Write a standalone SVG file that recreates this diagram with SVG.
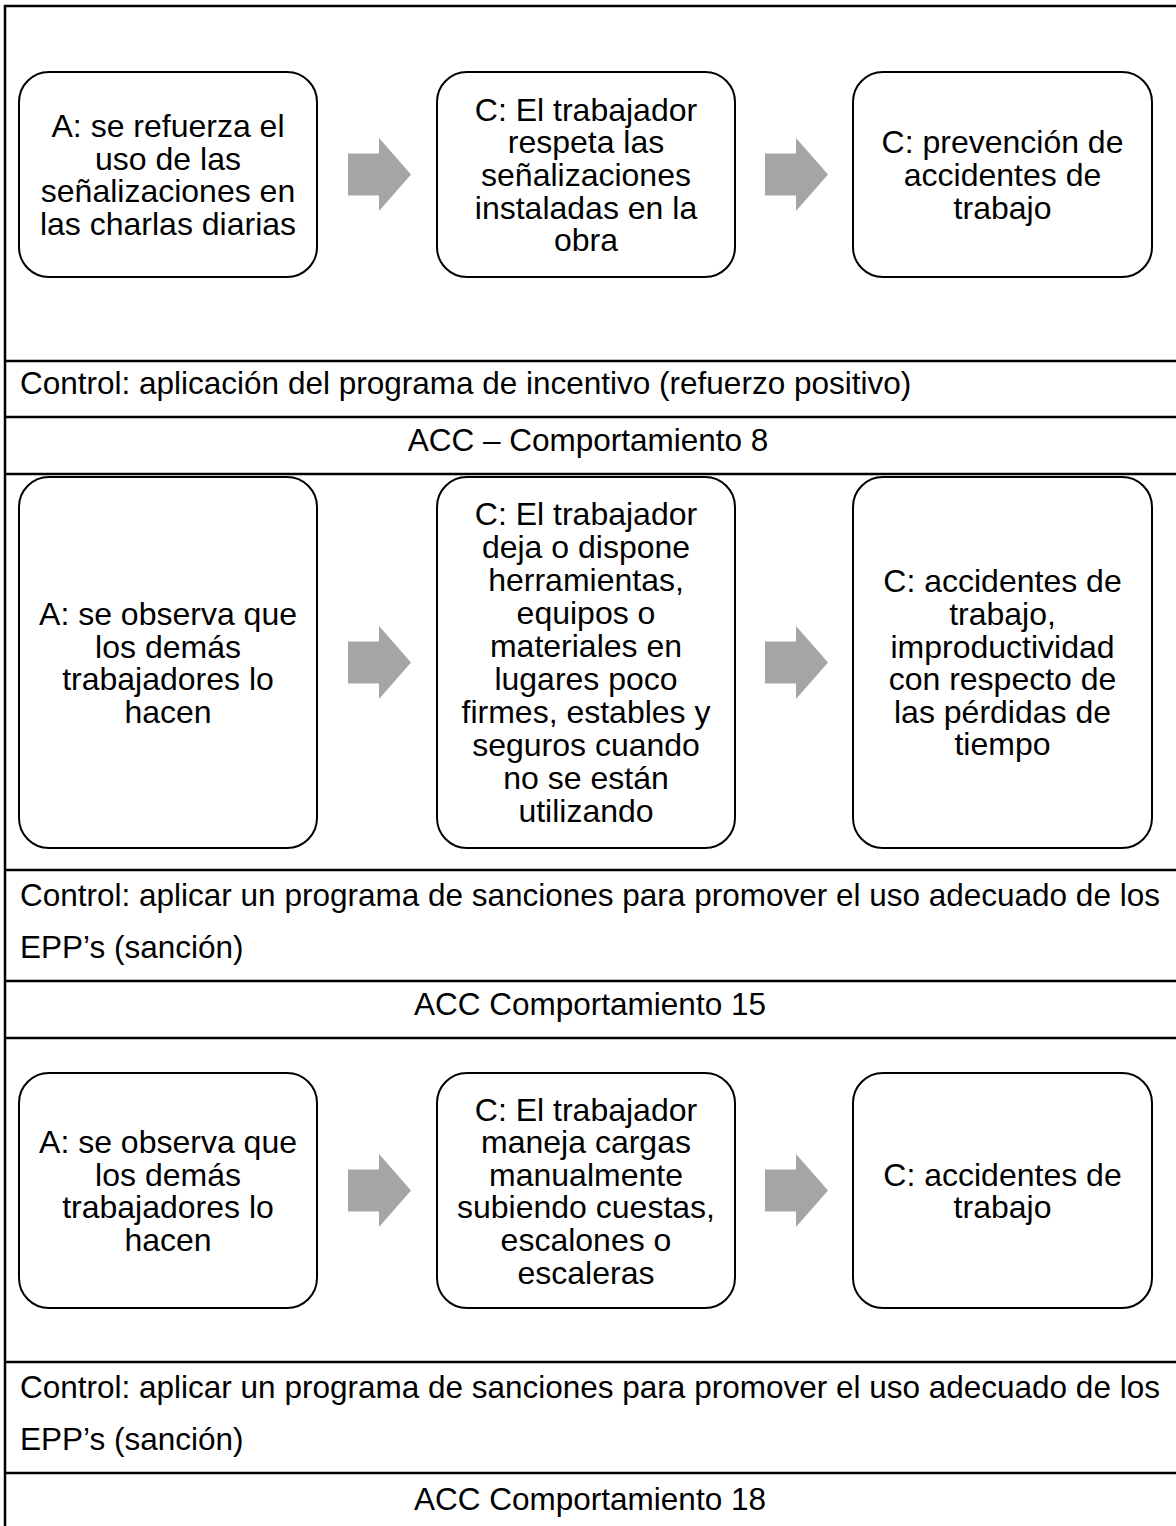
<svg xmlns="http://www.w3.org/2000/svg" width="1176" height="1526" viewBox="0 0 1176 1526">
<style>
text{font-family:"Liberation Sans",Arial,sans-serif;font-size:31.5px;fill:#000}
.c{text-anchor:middle}
.bt{font-size:32px}
.box{fill:#fff;stroke:#000;stroke-width:2}
.arr{fill:#a5a5a5}
.tl{stroke:#000;stroke-width:2.5;fill:none}
</style>
<rect width="1176" height="1526" fill="#fff"/>
<g id="table">
<path class="tl" d="M5,1526 V6 H1176"/>
<path class="tl" d="M5,361 H1176 M5,417 H1176 M5,474 H1176 M5,870 H1176 M5,981 H1176 M5,1038 H1176 M5,1362 H1176 M5,1473 H1176"/>
</g>
<g id="connectors">
<path class="arr" d="M348,153.5 H379 V138 L411,174.5 L379,211 V195.5 H348 Z"/>
<path class="arr" d="M765,153.5 H796 V138 L828,174.5 L796,211 V195.5 H765 Z"/>
<path class="arr" d="M348,641.5 H379 V626 L411,662.5 L379,699 V683.5 H348 Z"/>
<path class="arr" d="M765,641.5 H796 V626 L828,662.5 L796,699 V683.5 H765 Z"/>
<path class="arr" d="M348,1169.5 H379 V1154 L411,1190.5 L379,1227 V1211.5 H348 Z"/>
<path class="arr" d="M765,1169.5 H796 V1154 L828,1190.5 L796,1227 V1211.5 H765 Z"/>
</g>
<g id="r1a"><rect class="box" x="19" y="72" width="298" height="205" rx="30"/>
<text class="c bt" x="168"><tspan x="168" y="137">A: se refuerza el</tspan><tspan x="168" y="169.6">uso de las</tspan><tspan x="168" y="202.2">señalizaciones en</tspan><tspan x="168" y="234.8">las charlas diarias</tspan></text></g>
<g id="r1b"><rect class="box" x="437" y="72" width="298" height="205" rx="30"/>
<text class="c bt" x="586"><tspan x="586" y="120.7">C: El trabajador</tspan><tspan x="586" y="153.3">respeta las</tspan><tspan x="586" y="185.9">señalizaciones</tspan><tspan x="586" y="218.5">instaladas en la</tspan><tspan x="586" y="251.1">obra</tspan></text></g>
<g id="r1c"><rect class="box" x="853" y="72" width="299" height="205" rx="30"/>
<text class="c bt" x="1002.5"><tspan x="1002.5" y="153.3">C: prevención de</tspan><tspan x="1002.5" y="185.9">accidentes de</tspan><tspan x="1002.5" y="218.5">trabajo</tspan></text></g>
<g id="ctrl1"><text x="20" y="394">Control: aplicación del programa de incentivo (refuerzo positivo)</text></g>
<g id="acc8"><text class="c" x="588" y="451">ACC – Comportamiento 8</text></g>
<g id="r2a"><rect class="box" x="19" y="477" width="298" height="371" rx="30"/>
<text class="c bt" x="168"><tspan x="168" y="625">A: se observa que</tspan><tspan x="168" y="657.6">los demás</tspan><tspan x="168" y="690.2">trabajadores lo</tspan><tspan x="168" y="722.8">hacen</tspan></text></g>
<g id="r2b"><rect class="box" x="437" y="477" width="298" height="371" rx="30"/>
<text class="c bt" x="586"><tspan x="586" y="525">C: El trabajador</tspan><tspan x="586" y="558">deja o dispone</tspan><tspan x="586" y="591">herramientas,</tspan><tspan x="586" y="624">equipos o</tspan><tspan x="586" y="657">materiales en</tspan><tspan x="586" y="690">lugares poco</tspan><tspan x="586" y="723">firmes, estables y</tspan><tspan x="586" y="756">seguros cuando</tspan><tspan x="586" y="789">no se están</tspan><tspan x="586" y="822">utilizando</tspan></text></g>
<g id="r2c"><rect class="box" x="853" y="477" width="299" height="371" rx="30"/>
<text class="c bt" x="1002.5"><tspan x="1002.5" y="592.4">C: accidentes de</tspan><tspan x="1002.5" y="625">trabajo,</tspan><tspan x="1002.5" y="657.6">improductividad</tspan><tspan x="1002.5" y="690.2">con respecto de</tspan><tspan x="1002.5" y="722.8">las pérdidas de</tspan><tspan x="1002.5" y="755.4">tiempo</tspan></text></g>
<g id="ctrl2"><text x="20" y="906">Control: aplicar un programa de sanciones para promover el uso adecuado de los</text><text x="20" y="958">EPP’s (sanción)</text></g>
<g id="acc15"><text class="c" x="590" y="1015">ACC Comportamiento 15</text></g>
<g id="r3a"><rect class="box" x="19" y="1073" width="298" height="235" rx="30"/>
<text class="c bt" x="168"><tspan x="168" y="1153">A: se observa que</tspan><tspan x="168" y="1185.6">los demás</tspan><tspan x="168" y="1218.2">trabajadores lo</tspan><tspan x="168" y="1250.8">hacen</tspan></text></g>
<g id="r3b"><rect class="box" x="437" y="1073" width="298" height="235" rx="30"/>
<text class="c bt" x="586"><tspan x="586" y="1120.5">C: El trabajador</tspan><tspan x="586" y="1153.1">maneja cargas</tspan><tspan x="586" y="1185.7">manualmente</tspan><tspan x="586" y="1218.3">subiendo cuestas,</tspan><tspan x="586" y="1250.9">escalones o</tspan><tspan x="586" y="1283.5">escaleras</tspan></text></g>
<g id="r3c"><rect class="box" x="853" y="1073" width="299" height="235" rx="30"/>
<text class="c bt" x="1002.5"><tspan x="1002.5" y="1185.6">C: accidentes de</tspan><tspan x="1002.5" y="1218.2">trabajo</tspan></text></g>
<g id="ctrl3"><text x="20" y="1398">Control: aplicar un programa de sanciones para promover el uso adecuado de los</text><text x="20" y="1450">EPP’s (sanción)</text></g>
<g id="acc18"><text class="c" x="590" y="1510">ACC Comportamiento 18</text></g>
</svg>
